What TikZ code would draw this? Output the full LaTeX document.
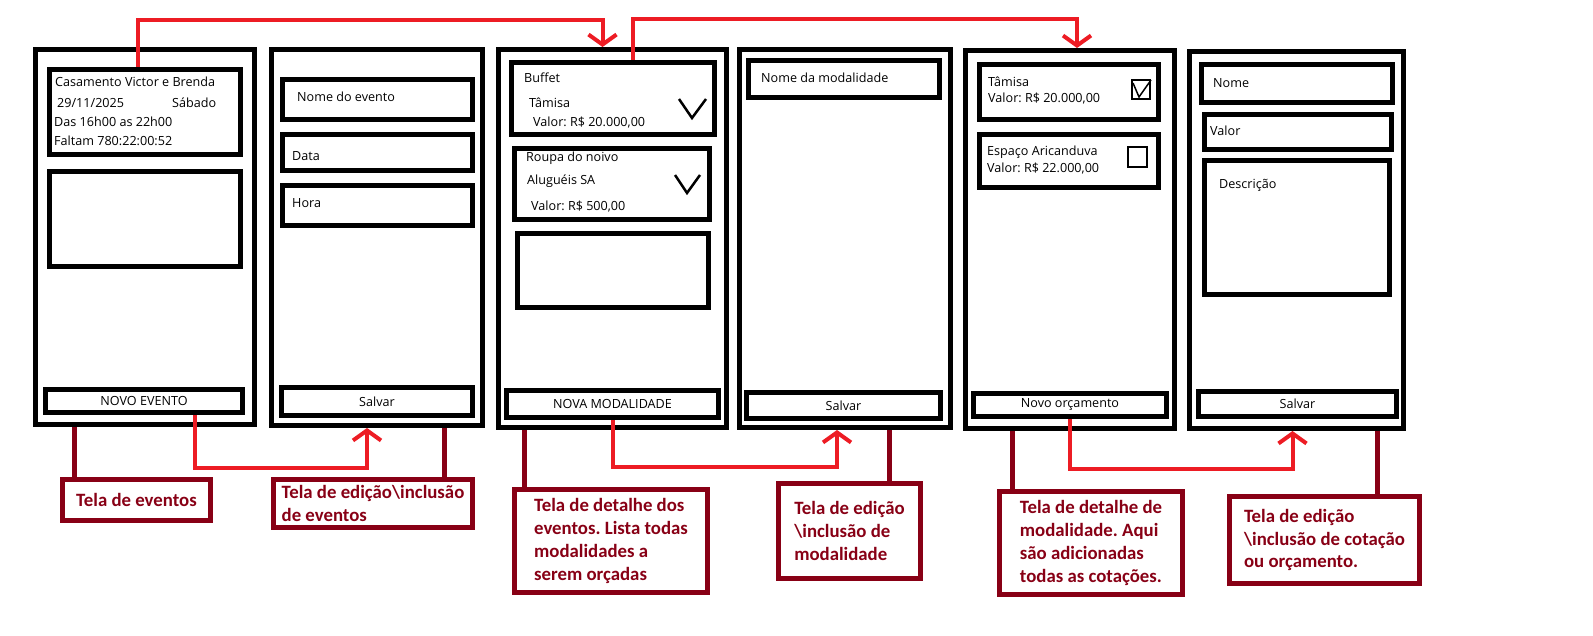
\documentclass[tikz,border=0pt]{standalone}
\usepackage{fontspec}
\setmainfont{Open Sans}
\newfontfamily\labfont{Carlito}
\usetikzlibrary{arrows.meta}
\definecolor{wred}{RGB}{237,28,36}
\definecolor{wdred}{RGB}{136,0,21}
\frenchspacing

\tikzset{
  ui/.style 2 args={draw, line width=5pt, anchor=north west, inner sep=0pt,
    minimum width={#1-5}, minimum height={#2-5}},
  txt/.style={anchor=west, inner sep=0pt},
  tick/.style={line width=2.5pt},
  chkbox/.style={line width=1.5pt},
  flow/.style={wred, line width=4pt, -{Straight Barb[length=10pt,width=28pt]}},
  lead/.style={wdred, line width=5pt},
  lab/.style={draw=wdred, line width=5pt, text=wdred, anchor=north west,
    align=left, inner sep=2pt, font=\labfont\bfseries\fontsize{18.8}{22.7}\selectfont},
}

\begin{document}
\begin{tikzpicture}[x=1pt, y=-1pt, every node/.style={font=\fontsize{12.6}{14}\selectfont}]
  \useasboundingbox (0,0) rectangle (1593,636);
  % --- screen 1: eventos ---
  \node[ui={224}{380}] (scr1) at (33,47) {};
  \node[ui={196}{90}] (evcard) at (47,67) {};
  \node[ui={196}{100}] (evimg) at (47,169) {};
  \node[ui={202}{28}] (novoev) at (43,387) {NOVO EVENTO};
  \node[txt] (ev1) at (55,82) {Casamento Victor e Brenda};
  \node[txt] (ev2) at (57,103) {29/11/2025};
  \node[txt] (ev3) at (172,103) {Sábado};
  \node[txt] (ev4) at (54,122) {Das 16h00 as 22h00};
  \node[txt] (ev5) at (54,141) {Faltam 780:22:00:52};
  % --- screen 2: edicao de evento ---
  \node[ui={216}{381}] (scr2) at (269,47) {};
  \node[ui={195}{45}] (fnome) at (280,77) {};
  \node[ui={195}{41}] (fdata) at (280,132) {};
  \node[ui={195}{45}] (fhora) at (280,183) {};
  \node[ui={196}{33}] (salvar1) at (279,385) {Salvar};
  \node[txt] (fn) at (297,97) {Nome do evento};
  \node[txt] (fd) at (292,156) {Data};
  \node[txt] (fh) at (292,203) {Hora};
  % --- screen 3: detalhe do evento ---
  \node[ui={233}{383}] (scr3) at (496,47) {};
  \node[ui={208}{77}] (buffet) at (509,60) {};
  \node[ui={200}{76}] (roupa) at (512,146) {};
  \node[ui={196}{79}] (mod3) at (515,231) {};
  \node[ui={217}{32}] (novamod) at (504,388) {NOVA MODALIDADE};
  \node[txt] (m1) at (524,78) {Buffet};
  \node[txt] (m2) at (529,103) {Tâmisa};
  \node[txt] (m3) at (533,123) {Valor: R\$ 20.000,00};
  \node[txt] (m4) at (526,158) {Roupa do noivo};
  \node[txt] (m5) at (527,181) {Aluguéis SA};
  \node[txt] (m6) at (531,207) {Valor: R\$ 500,00};
  \draw[tick] (679,99) -- (692,118) -- (706,99);
  \draw[tick] (675,175) -- (687,193) -- (700,175);
  % --- screen 4: edicao de modalidade ---
  \node[ui={216}{383}] (scr4) at (737,47) {};
  \node[ui={196}{42}] (fmod) at (746,58) {};
  \node[ui={199}{31}] (salvar2) at (744,390) {Salvar};
  \node[txt] (fm) at (761,78) {Nome da modalidade};
  % --- screen 5: detalhe de modalidade ---
  \node[ui={214}{383}] (scr5) at (963,48) {};
  \node[ui={184}{60}] (cot1) at (977,62) {};
  \node[ui={184}{58}] (cot2) at (977,132) {};
  \node[ui={198}{28}] (novoorc) at (971,391) {Novo orçamento};
  \node[txt] (c1) at (988,82) {Tâmisa};
  \node[txt] (c2) at (988,99) {Valor: R\$ 20.000,00};
  \node[txt] (c3) at (987,152) {Espaço Aricanduva};
  \node[txt] (c4) at (987,169) {Valor: R\$ 22.000,00};
  \draw[chkbox] (1132,80) rectangle (1150,99);
  \draw[chkbox] (1133,83) -- (1139,97) -- (1151,80);
  \draw[chkbox] (1128,147) rectangle (1147,167);
  % --- screen 6: edicao de cotacao ---
  \node[ui={219}{382}] (scr6) at (1187,49) {};
  \node[ui={196}{43}] (cnome) at (1199,62) {};
  \node[ui={192}{40}] (cvalor) at (1202,112) {};
  \node[ui={190}{139}] (cdesc) at (1202,158) {};
  \node[ui={203}{30}] (salvar3) at (1196,389) {Salvar};
  \node[txt] (q1) at (1213,83) {Nome};
  \node[txt] (q2) at (1210,131) {Valor};
  \node[txt] (q3) at (1219,185) {Descrição};
  % --- navigation ---
  \draw[flow] ([xshift=-7pt]evcard.north) -- ++(0,-47) -| ([xshift=-10pt]scr3.north);
  \draw[flow] ([xshift=20pt]buffet.north) -- ++(0,-41) -| ([xshift=7pt]scr5.north);
  \draw[flow] ([xshift=51pt]novoev.south) -- ++(0,53) -| ([xshift=-10pt]scr2.south);
  \draw[flow] (novamod.south) -- ++(0,47) -| ([xshift=-8pt]scr4.south);
  \draw[flow] (novoorc.south) -- ++(0,50) -| ([xshift=-4pt]scr6.south);
  % --- captions ---
  \node[lab, minimum width=148, minimum height=41] (lab1) at (60,477) {Tela de eventos};
  \node[lab, minimum width=199, minimum height=48] (lab2) at (271,477)
    {Tela de edição\textbackslash{}inclusão\\de eventos};
  \node[lab, minimum width=193, minimum height=103] (lab3) at (512,487)
    {Tela de detalhe dos\\eventos. Lista todas\\modalidades a\\serem orçadas};
  \node[lab, minimum width=142, minimum height=95] (lab4) at (776,481)
    {Tela de edição\\\textbackslash{}inclusão de\\modalidade};
  \node[lab, minimum width=183, minimum height=103] (lab5) at (997,489)
    {Tela de detalhe de\\modalidade. Aqui\\são adicionadas\\todas as cotações.};
  \node[lab, minimum width=190, minimum height=87] (lab6) at (1227,494)
    {Tela de edição\\\textbackslash{}inclusão de cotação\\ou orçamento.};
  \draw[lead] ([xshift=14pt]lab1.north west) -- ([xshift=14pt]lab1.north west |- scr1.south);
  \draw[lead] ([xshift=-31pt]lab2.north east) -- ([xshift=-31pt]lab2.north east |- scr2.south);
  \draw[lead] ([xshift=12pt]lab3.north west) -- ([xshift=12pt]lab3.north west |- scr3.south);
  \draw[lead] ([xshift=-34pt]lab4.north east) -- ([xshift=-34pt]lab4.north east |- scr4.south);
  \draw[lead] ([xshift=15pt]lab5.north west) -- ([xshift=15pt]lab5.north west |- scr5.south);
  \draw[lead] ([xshift=-45pt]lab6.north east) -- ([xshift=-45pt]lab6.north east |- scr6.south);
\end{tikzpicture}
\end{document}
